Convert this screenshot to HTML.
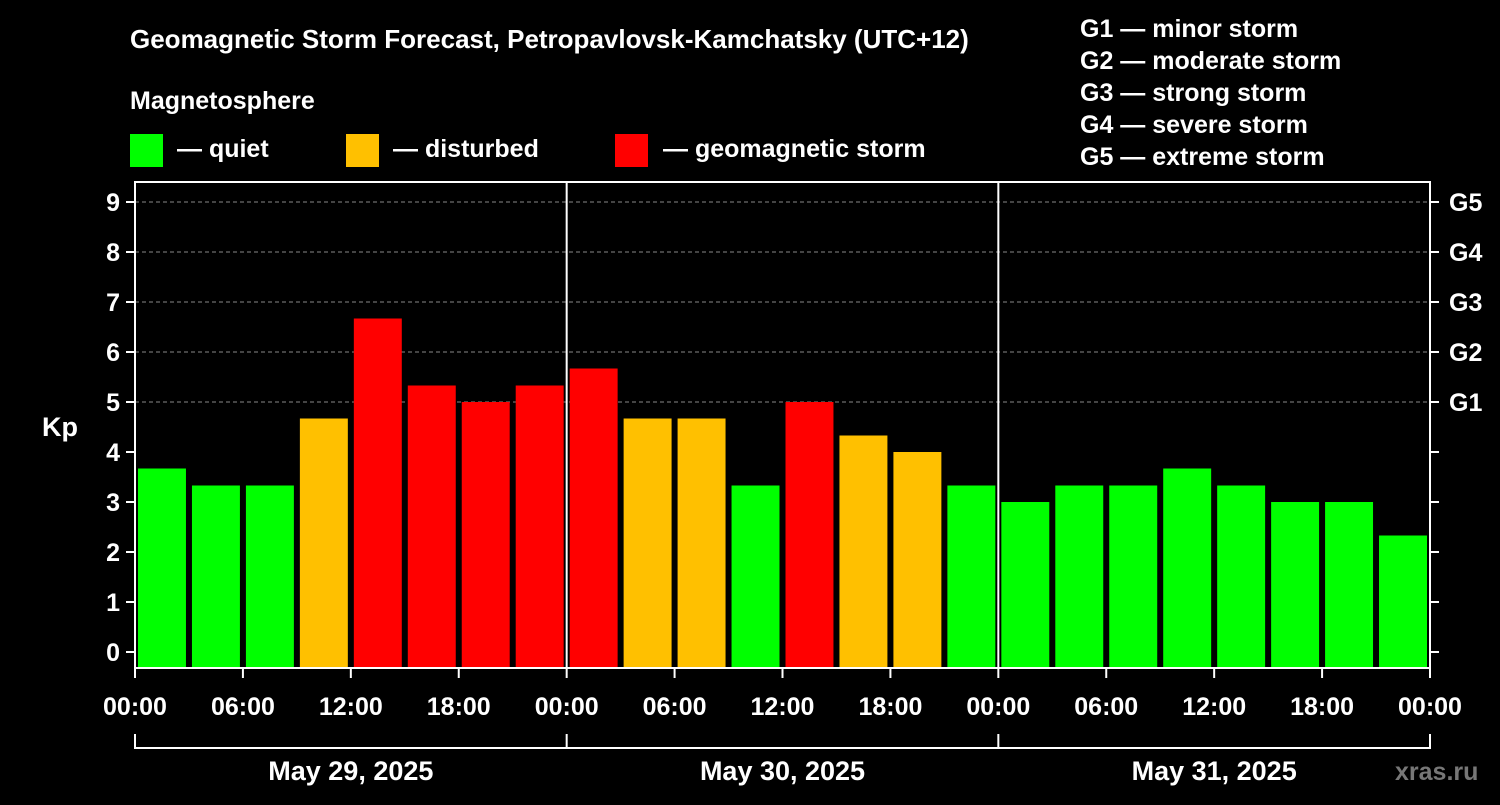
<!DOCTYPE html>
<html><head><meta charset="utf-8"><style>
body{margin:0;background:#000;width:1500px;height:800px;overflow:hidden;font-family:"Liberation Sans",Arial,sans-serif;}
svg text{font-family:"Liberation Sans",Arial,sans-serif;font-weight:bold;fill:#fff;}
</style></head><body>
<svg id="chart" width="1500" height="800" xmlns="http://www.w3.org/2000/svg">
<text x="130" y="48" font-size="26">Geomagnetic Storm Forecast, Petropavlovsk-Kamchatsky (UTC+12)</text>
<text x="130" y="109" font-size="25">Magnetosphere</text>
<g><rect x="130" y="134" width="33" height="33" fill="#00ff00"/><text x="177" y="157" font-size="25">— quiet</text></g>
<g><rect x="346" y="134" width="33" height="33" fill="#ffc000"/><text x="393" y="157" font-size="25">— disturbed</text></g>
<g><rect x="615" y="134" width="33" height="33" fill="#ff0000"/><text x="663" y="157" font-size="25">— geomagnetic storm</text></g>
<g font-size="25">
<text x="1080" y="37">G1 — minor storm</text><text x="1080" y="69">G2 — moderate storm</text><text x="1080" y="101">G3 — strong storm</text><text x="1080" y="133">G4 — severe storm</text><text x="1080" y="165">G5 — extreme storm</text></g>
<text x="42" y="436" font-size="27">Kp</text>
<text x="1395" y="780" font-size="25" style="fill:#777">xras.ru</text>
<g id="plot"></g>
</svg>
<script>
const kpValues=[3.67,3.33,3.33,4.67,6.67,5.33,5.0,5.33,5.67,4.67,4.67,3.33,5.0,4.33,4.0,3.33,3.0,3.33,3.33,3.67,3.33,3.0,3.0,2.33];
const yTicks=[0,1,2,3,4,5,6,7,8,9];
const gLabels=["G1","G2","G3","G4","G5"];
const xLabels=["00:00","06:00","12:00","18:00","00:00","06:00","12:00","18:00","00:00","06:00","12:00","18:00","00:00"];
const dayLabels=["May 29, 2025","May 30, 2025","May 31, 2025"];
const L=135,R=1430,T=182,B=668;
const xs=i=>L+i*(R-L)/24;
const ys=v=>652-v*50;
const g=document.getElementById('plot');
const NS='http://www.w3.org/2000/svg';
function mk(t,a,p){const e=document.createElementNS(NS,t);for(const k in a)e.setAttribute(k,a[k]);(p||g).appendChild(e);return e;}
yTicks.forEach(v=>{if(v>=5){const l=mk('line',{x1:L,x2:R,y1:ys(v),y2:ys(v),stroke:'#888','stroke-dasharray':'4,3','stroke-width':1});

}});
kpValues.forEach((v,i)=>{const c=v>=5?'#ff0000':(v>=4?'#ffc000':'#00ff00');
const r=mk('rect',{x:xs(i)+3,y:ys(v),width:(R-L)/24-6,height:B-ys(v),fill:c});

});
const f=mk('rect',{x:L,y:T,width:R-L,height:B-T,fill:'none',stroke:'#fff','stroke-width':2});


[8,16].forEach(i=>{const l=mk('line',{x1:xs(i),x2:xs(i),y1:T,y2:B,stroke:'#fff','stroke-width':2});

});
yTicks.forEach(v=>{const y=ys(v);
mk('line',{x1:L-9,x2:L,y1:y,y2:y,stroke:'#fff','stroke-width':2});
mk('line',{x1:R,x2:R+9,y1:y,y2:y,stroke:'#fff','stroke-width':2});
const t=mk('text',{x:L-15,y:y+9,'font-size':25,'text-anchor':'end'});t.textContent=v;


if(v>=5){const gt=mk('text',{x:R+19,y:y+9,'font-size':25});gt.textContent=gLabels[v-5];

}});
xLabels.forEach((s,i)=>{const x=xs(i*2);
mk('line',{x1:x,x2:x,y1:B,y2:B+10,stroke:'#fff','stroke-width':2});
const t=mk('text',{x:x,y:715,'font-size':25,'text-anchor':'middle'});t.textContent=s;

});
mk('line',{x1:L,x2:R,y1:748,y2:748,stroke:'#fff','stroke-width':2});
[0,8,16,24].forEach(i=>mk('line',{x1:xs(i),x2:xs(i),y1:734,y2:749,stroke:'#fff','stroke-width':2}));
dayLabels.forEach((s,d)=>{const t=mk('text',{x:(xs(d*8)+xs(d*8+8))/2,y:780,'font-size':27,'text-anchor':'middle'});t.textContent=s;

});
</script>
</body></html>
